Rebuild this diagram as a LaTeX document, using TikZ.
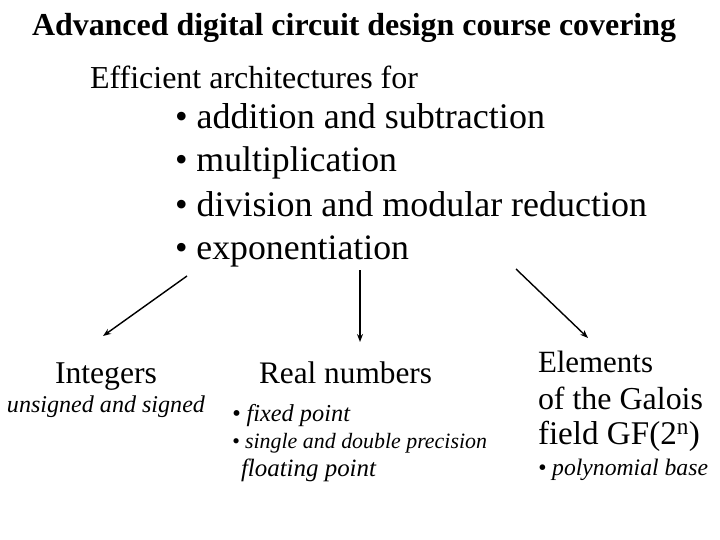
\documentclass[tikz,border=0pt]{standalone}
\usepackage{fontspec}
\setmainfont{Liberation Serif}
\usetikzlibrary{arrows.meta}
\newcommand{\fitw}[2]{\resizebox{#1pt}{!}{#2}}
\tikzset{
  txt/.style={anchor=base west, inner sep=0pt, outer sep=0pt},
  arr/.style={line width=1.4pt, -{Stealth[length=8pt,width=6pt]}},
}
\begin{document}
\begin{tikzpicture}[x=1pt,y=-1pt]
\useasboundingbox (0,0) rectangle (720,540);
\node[txt, font=\fontsize{30}{30}\selectfont\bfseries] (title) at (32,36) {\fitw{644}{Advanced digital circuit design course covering}};
\node[txt, font=\fontsize{24}{24}\selectfont] (eff) at (90,89) {\fitw{328}{Efficient architectures for}};
\node[txt, font=\fontsize{26}{26}\selectfont] (b1) at (175,129) {\fitw{370}{\textbullet{} addition and subtraction}};
\node[txt, font=\fontsize{26}{26}\selectfont] (b2) at (175,172) {\fitw{222}{\textbullet{} multiplication}};
\node[txt, font=\fontsize{26}{26}\selectfont] (b3) at (175,216) {\fitw{472}{\textbullet{} division and modular reduction}};
\node[txt, font=\fontsize{26}{26}\selectfont] (b4) at (175,259) {\fitw{234}{\textbullet{} exponentiation}};

\node[txt, font=\fontsize{28}{28}\selectfont] (int) at (55,383) {\fitw{102}{Integers}};
\node[txt, font=\fontsize{22}{22}\selectfont\itshape] (ints) at (7,412) {\fitw{198}{unsigned and signed}};

\node[txt, font=\fontsize{28}{28}\selectfont] (real) at (259,383) {\fitw{173}{Real numbers}};
\node[txt, font=\fontsize{22}{22}\selectfont\itshape] (r1) at (232,421) {\fitw{118}{\textbullet{} fixed point}};
\node[txt, font=\fontsize{22}{22}\selectfont\itshape] (r2) at (232,448) {\fitw{255}{\textbullet{} single and double precision}};
\node[txt, font=\fontsize{22}{22}\selectfont\itshape] (r3) at (241,476) {\fitw{135}{floating point}};

\node[txt, font=\fontsize{31}{31}\selectfont] (el1) at (538,372) {\fitw{115}{Elements}};
\node[txt, font=\fontsize{31}{31}\selectfont] (el2) at (538,409) {\fitw{165}{of the Galois}};
\node[txt, font=\fontsize{31}{31}\selectfont] (el3) at (538,444) {\fitw{162}{field GF(2\textsuperscript{n})}};
\node[txt, font=\fontsize{22}{22}\selectfont\itshape] (el4) at (538,475) {\fitw{170}{\textbullet{} polynomial base}};

\coordinate (s1) at (187,276);
\coordinate (s2) at (360,270);
\coordinate (s3) at (516,269);
\coordinate (e1) at (103,336);
\coordinate (e2) at (360,342);
\coordinate (e3) at (588,338);
\draw[arr] (s1) -- (e1);
\draw[arr] (s2) -- (e2);
\draw[arr] (s3) -- (e3);
\end{tikzpicture}
\end{document}
